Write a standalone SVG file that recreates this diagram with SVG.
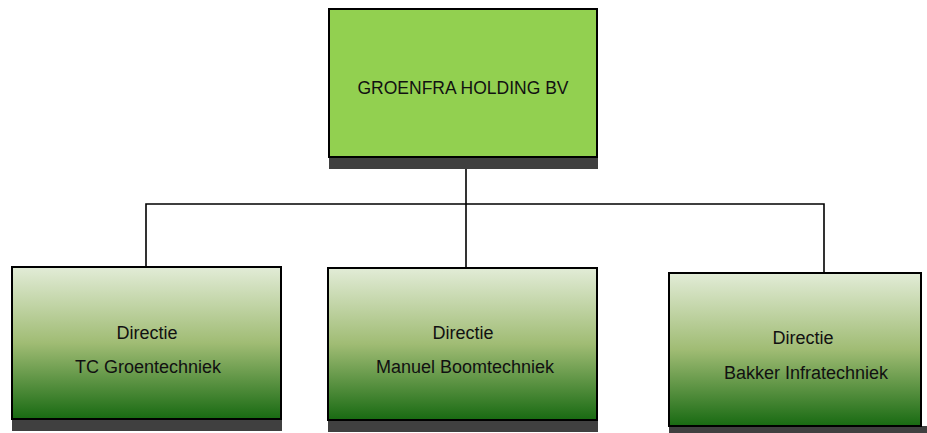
<svg xmlns="http://www.w3.org/2000/svg" width="927" height="433" viewBox="0 0 927 433">
<style>
.shadow{fill:#404040}
.box{stroke:#000;stroke-width:2}
.t{font-family:"Liberation Sans",Arial,sans-serif;font-size:18px;fill:#111;text-anchor:middle}
.top{font-size:17.5px}
.conn{fill:none;stroke:#000;stroke-width:1.6}
</style>
<defs>
<linearGradient id="g" x1="0" y1="0" x2="0" y2="1">
<stop offset="0" stop-color="#e2ecd7"/>
<stop offset="0.5" stop-color="#a0bc74"/>
<stop offset="1" stop-color="#186a12"/>
</linearGradient>
</defs>
<rect width="927" height="433" fill="#fff"/>
<g id="connectors">
<path class="conn" d="M466 157 V267"/>
<path class="conn" d="M146 267 V204 H824 V273"/>
</g>
<g id="holding">
<rect class="shadow" x="329" y="157" width="269" height="12"/>
<rect class="box" x="329" y="9" width="268" height="148" fill="#92d050"/>
<text class="t top" x="463" y="94">GROENFRA HOLDING BV</text>
</g>
<g id="tc">
<rect class="shadow" x="12" y="419" width="270" height="12"/>
<rect class="box" x="12" y="267" width="269" height="152" fill="url(#g)"/>
<text class="t" x="147" y="339">Directie</text>
<text class="t" x="148" y="373">TC Groentechniek</text>
</g>
<g id="manuel">
<rect class="shadow" x="328" y="420" width="270" height="12"/>
<rect class="box" x="328" y="268" width="269" height="152" fill="url(#g)"/>
<text class="t" x="463" y="339">Directie</text>
<text class="t" x="465" y="373">Manuel Boomtechniek</text>
</g>
<g id="bakker">
<rect class="shadow" x="669" y="426" width="258" height="8"/>
<rect class="box" x="669" y="273" width="252" height="153" fill="url(#g)"/>
<text class="t" x="803" y="344">Directie</text>
<text class="t" x="806" y="379">Bakker Infratechniek</text>
</g>
</svg>
